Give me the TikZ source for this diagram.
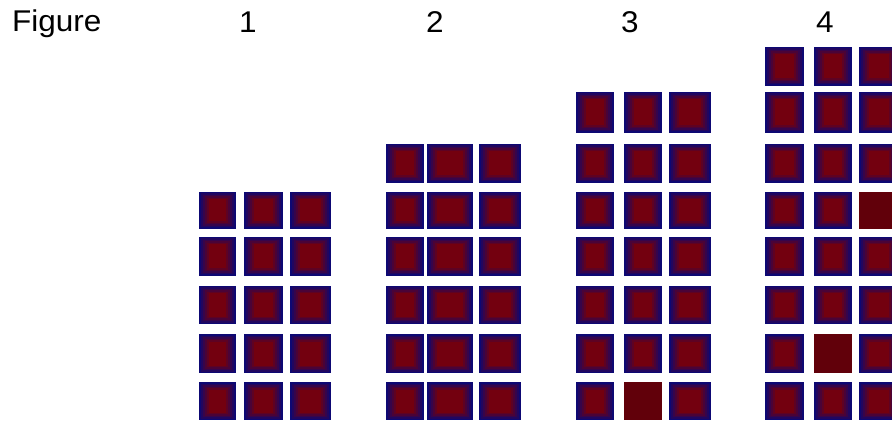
\documentclass[tikz,border=0pt]{standalone}
\usepackage{fontspec}
\setmainfont[FakeStretch=1.05]{Liberation Sans}
\definecolor{EdgeClr}{rgb}{0.05,0.03,0.45}
\definecolor{CoreClr}{rgb}{0.45,0,0.06}
\definecolor{SolidClr}{rgb}{0.38,0,0.04}

% one tile: left, top, width, height (in px)
\newcommand{\tile}[4]{%
  \foreach \k in {0,...,5}{%
    \pgfmathsetmacro{\insx}{\k*2.0}%
    \pgfmathsetmacro{\insy}{\k*1.5}%
    \pgfmathtruncatemacro{\mix}{\k*20}%
    \fill[CoreClr!\mix!EdgeClr] (#1+\insx,#2+\insy) rectangle (#1+#3-\insx,#2+#4-\insy);
  }}

\begin{document}
\begin{tikzpicture}[x=1pt,y=-1pt,
  lbl/.style={anchor=base,inner sep=0pt,font=\fontsize{30}{32}\selectfont}]
\useasboundingbox (0,0) rectangle (892,422);
\clip (0,0) rectangle (892,422);

% labels
\node[lbl,anchor=base west] (fig) at (12,32) {Figure};
\node[lbl] (n1) at (248,33) {1};
\node[lbl] (n2) at (435,33) {2};
\node[lbl] (n3) at (630,33) {3};
\node[lbl] (n4) at (825,33) {4};

% tiles: figure / first row / columns (left/width)
\foreach \f/\first/\cols in {1/4/{199/37,244/39,290/41},
                             2/3/{386/38,427/46,479/42},
                             3/2/{576/38,624/38,669/42},
                             4/1/{765/39,814/38,859/40}}{
  \foreach \r/\ty/\th in {1/47/39,2/92/41,3/144/39,4/192/37,
                          5/237/39,6/286/38,7/334/39,8/382/38}{
    \ifnum\r<\first\else
      \foreach \cx/\cw in \cols{\tile{\cx}{\ty}{\cw}{\th}}
    \fi
  }
}

% plain tiles
\fill[SolidClr] (624,382) rectangle (662,420);
\fill[SolidClr] (859,192) rectangle (899,229);
\fill[SolidClr] (814,334) rectangle (852,373);
\end{tikzpicture}
\end{document}
